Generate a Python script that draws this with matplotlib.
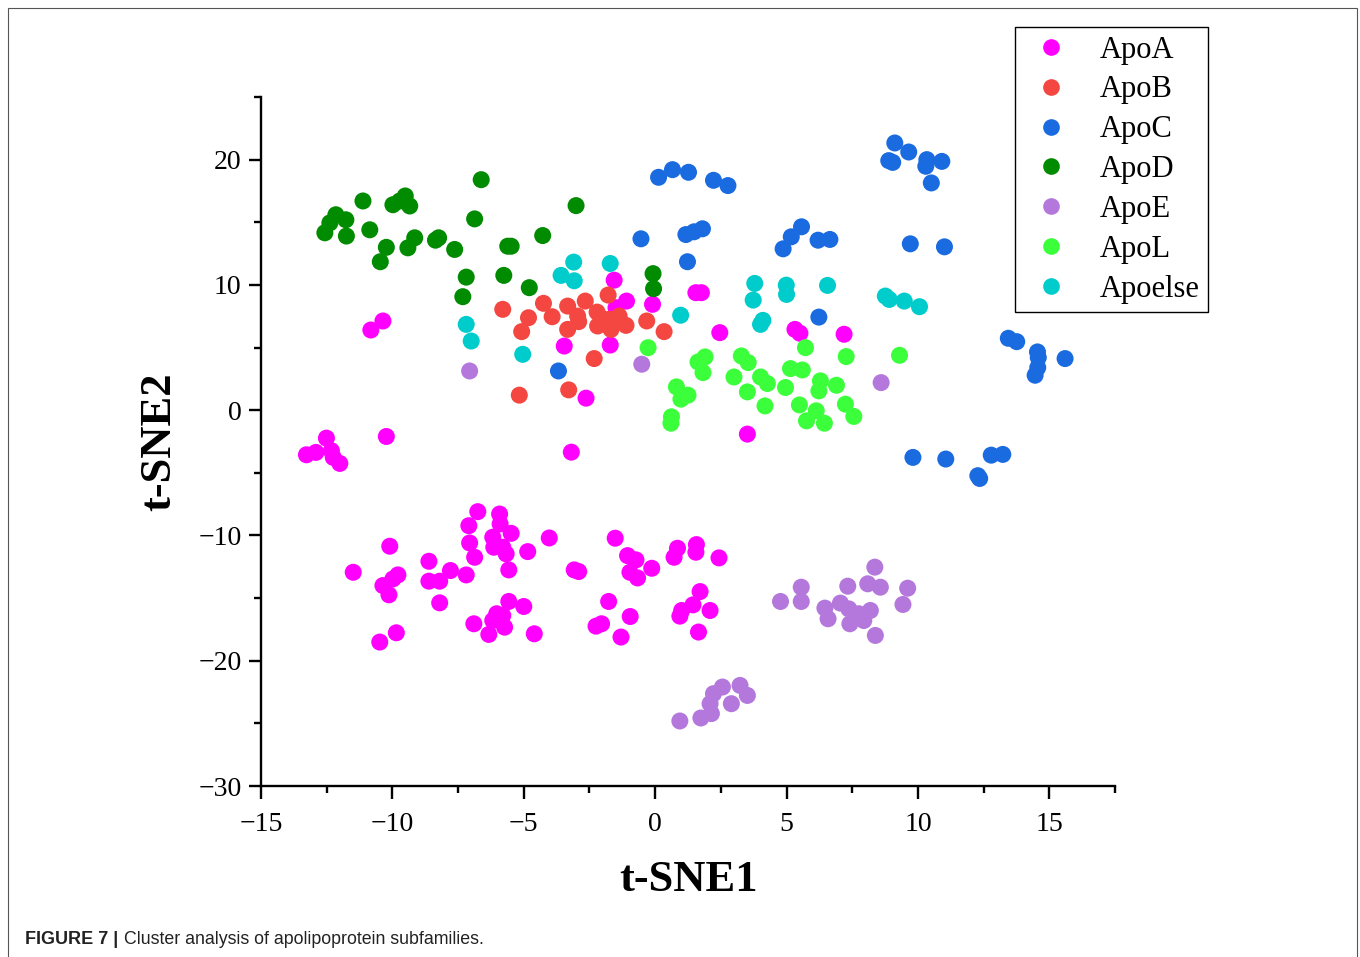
import matplotlib.pyplot as plt
import numpy as np
from matplotlib.lines import Line2D
from matplotlib.patches import Rectangle
from matplotlib.ticker import MultipleLocator

# t-SNE coordinates
apoa = np.array([
    (-10.36, 7.12), (-10.82, 6.40), (-1.56, 10.38), (-1.09, 8.71), (-1.49, 8.18),
    (-0.10, 8.45), (-3.46, 5.12), (-1.71, 5.20), (-2.63, 0.96), (1.55, 9.38),
    (1.76, 9.38), (2.46, 6.19), (5.32, 6.45), (5.51, 6.14), (7.19, 6.06),
    (3.51, -1.91), (-3.19, -3.35),
    (-12.51, -2.23), (-12.91, -3.37), (-13.27, -3.56), (-12.32, -3.24), (-12.25, -3.77),
    (-12.00, -4.25), (-10.23, -2.10),
    (-10.10, -10.86), (-11.49, -12.94), (-9.79, -13.15), (-9.98, -13.47), (-10.36, -14.00),
    (-10.13, -14.74), (-9.85, -17.77), (-10.48, -18.51), (-8.61, -12.06), (-8.61, -13.65),
    (-8.20, -13.65), (-7.79, -12.80), (-8.20, -15.38), (-7.19, -13.15), (-6.87, -11.74),
    (-7.06, -10.60), (-7.09, -9.22), (-6.75, -8.10), (-5.92, -8.29), (-5.90, -9.08),
    (-6.18, -10.14), (-6.14, -10.94), (-5.48, -9.83), (-5.80, -10.94), (-5.67, -11.47),
    (-5.57, -12.75), (-4.85, -11.29), (-4.03, -10.20), (-6.90, -17.05), (-6.33, -17.90),
    (-6.18, -16.79), (-6.03, -16.25), (-5.80, -16.39), (-5.57, -15.27), (-5.73, -17.32),
    (-5.00, -15.67), (-4.60, -17.85),
    (-1.52, -10.22), (-1.05, -11.61), (-0.73, -11.95), (-0.96, -12.94), (-0.67, -13.39),
    (-0.13, -12.62), (-3.08, -12.75), (-2.91, -12.88), (0.85, -11.02), (0.72, -11.74),
    (1.57, -10.73), (1.55, -11.34), (2.43, -11.79), (-1.77, -15.27), (-2.25, -17.24),
    (-2.04, -17.05), (-0.95, -16.47), (-1.30, -18.11), (1.71, -14.48), (1.44, -15.54),
    (1.01, -15.99), (0.94, -16.44), (2.09, -15.99), (1.65, -17.71),
])
apob = np.array([
    (-5.80, 8.05), (-4.82, 7.38), (-5.08, 6.27), (-4.25, 8.53), (-3.92, 7.46),
    (-3.33, 8.31), (-2.95, 7.51), (-2.91, 7.07), (-3.33, 6.45), (-2.66, 8.71),
    (-2.21, 7.83), (-1.79, 9.19), (-2.19, 6.72), (-1.75, 7.25), (-1.37, 7.51),
    (-1.11, 6.77), (-1.68, 6.45), (-1.87, 6.85), (-0.32, 7.12), (0.34, 6.27),
    (-2.32, 4.12), (-5.17, 1.20), (-3.29, 1.62), (-1.50, 7.00), (-2.00, 7.30),
])
apoc = np.array([
    (0.13, 18.59), (0.66, 19.20), (1.27, 18.99), (2.22, 18.35), (2.77, 17.93),
    (-0.54, 13.68), (1.17, 14.02), (1.48, 14.24), (1.80, 14.48), (1.23, 11.85),
    (4.87, 12.88), (5.18, 13.84), (5.57, 14.64), (6.20, 13.57), (6.65, 13.63),
    (6.23, 7.43), (9.71, 13.28), (11.01, 13.04), (9.12, 21.33), (9.65, 20.61),
    (8.89, 19.92), (9.04, 19.78), (10.34, 20.00), (10.30, 19.47), (10.91, 19.86),
    (10.51, 18.14), (-3.68, 3.13), (13.44, 5.74), (13.76, 5.47), (14.55, 4.65),
    (14.58, 4.20), (14.56, 3.40), (14.46, 2.79), (15.60, 4.12), (9.81, -3.77),
    (11.06, -3.90), (12.79, -3.59), (13.23, -3.53), (12.28, -5.23), (12.35, -5.45),
])
apod = np.array([
    (-12.57, 14.16), (-12.38, 14.95), (-12.15, 15.60), (-11.77, 15.20), (-11.75, 13.90),
    (-11.12, 16.70), (-10.86, 14.40), (-10.23, 13.00), (-10.46, 11.85), (-9.98, 16.40),
    (-9.51, 17.10), (-9.34, 16.30), (-9.72, 16.70), (-9.41, 12.96), (-9.15, 13.76),
    (-8.36, 13.57), (-8.24, 13.76), (-7.63, 12.83), (-6.62, 18.40), (-6.87, 15.27),
    (-7.19, 10.62), (-7.32, 9.06), (-5.61, 13.09), (-5.48, 13.09), (-5.76, 10.76),
    (-4.79, 9.78), (-4.28, 13.94), (-3.01, 16.33), (-0.08, 10.90), (-0.06, 9.70),
])
apoe = np.array([
    (-7.06, 3.13), (-0.51, 3.67), (8.60, 2.20),
    (4.77, -15.27), (5.56, -14.13), (5.56, -15.27), (6.46, -15.80), (6.58, -16.65),
    (7.05, -15.40), (7.33, -14.05), (7.37, -15.86), (7.75, -16.25), (7.41, -17.05),
    (7.94, -16.79), (8.19, -15.99), (8.09, -13.86), (8.57, -14.13), (8.36, -12.53),
    (8.38, -17.98), (9.61, -14.21), (9.43, -15.51),
    (0.94, -24.81), (1.74, -24.57), (2.14, -24.22), (2.09, -23.43), (2.22, -22.63),
    (2.56, -22.10), (2.90, -23.43), (3.23, -21.97), (3.51, -22.77),
])
apol = np.array([
    (-0.27, 4.99), (1.90, 4.25), (1.63, 3.85), (1.82, 3.00), (0.81, 1.86),
    (1.25, 1.20), (0.98, 0.88), (0.62, -0.53), (0.60, -1.04), (3.28, 4.33),
    (3.54, 3.80), (3.00, 2.65), (4.01, 2.65), (4.27, 2.13), (3.51, 1.46),
    (4.18, 0.34), (4.96, 1.81), (5.15, 3.32), (5.60, 3.21), (5.72, 4.99),
    (5.49, 0.42), (6.29, 2.34), (6.23, 1.54), (6.90, 1.99), (7.27, 4.28),
    (6.13, -0.05), (5.76, -0.85), (6.44, -1.04), (7.24, 0.48), (7.56, -0.50),
    (9.30, 4.38),
])
apoelse = np.array([
    (-3.10, 11.82), (-3.58, 10.76), (-3.08, 10.33), (-1.71, 11.71), (-7.19, 6.85),
    (-7.00, 5.52), (-5.04, 4.46), (0.97, 7.58), (3.79, 10.12), (3.73, 8.79),
    (4.10, 7.17), (4.01, 6.85), (4.99, 9.98), (5.00, 9.24), (6.56, 9.96),
    (8.76, 9.11), (8.91, 8.84), (9.48, 8.71), (10.06, 8.26),
])

groups = [apoa, apob, apoc, apod, apoe, apol, apoelse]
names = ["ApoA", "ApoB", "ApoC", "ApoD", "ApoE", "ApoL", "Apoelse"]
colors = ["#ff00ff", "#f44741", "#1a6be0", "#008b00", "#b477db", "#3cff3c", "#00cccc"]

serif = "Liberation Serif"

fig = plt.figure(figsize=(13.6, 9.57), dpi=100)
ax = fig.add_axes([261 / 1360, 1 - 786 / 957, (1115 - 261) / 1360, (786 - 97) / 957])

for pts, name, c in zip(groups, names, colors):
    ax.scatter(pts[:, 0], pts[:, 1], s=150, color=c, edgecolors="none", label=name)

ax.set_xlim(-15, 17.5)
ax.set_ylim(-30, 25)
ax.xaxis.set_major_locator(MultipleLocator(5))
ax.xaxis.set_minor_locator(MultipleLocator(2.5))
ax.yaxis.set_major_locator(MultipleLocator(10))
ax.yaxis.set_minor_locator(MultipleLocator(5))

for side in ["top", "right"]:
    ax.spines[side].set_visible(False)
for side in ["left", "bottom"]:
    ax.spines[side].set_linewidth(1.7)

ax.tick_params(which="major", direction="out", length=9, width=1.7, labelsize=20)
ax.tick_params(axis="x", which="major", pad=10)
ax.tick_params(axis="y", which="major", pad=5)
ax.tick_params(which="minor", direction="out", length=5, width=1.7)
for lab in ax.get_xticklabels() + ax.get_yticklabels():
    lab.set_fontfamily(serif)

ax.set_xlabel("t-SNE1", fontsize=32, fontweight="bold", family=serif, labelpad=16)
ax.set_ylabel("t-SNE2", fontsize=32, fontweight="bold", family=serif, labelpad=14)

handles = [Line2D([], [], marker="o", linestyle="none", markersize=12,
                  markerfacecolor=c, markeredgecolor="none") for c in colors]
leg = fig.legend(handles, names, loc="upper left",
                 bbox_to_anchor=(1015 / 1360, 1 - 27 / 957),
                 prop={"family": serif, "size": 22}, frameon=True, fancybox=False,
                 edgecolor="black", framealpha=1, handlelength=1.8, handletextpad=0.7,
                 labelspacing=0.355, borderpad=0.28, borderaxespad=0)
leg.get_frame().set_linewidth(1.0)

# figure frame and caption
fig.patches.append(Rectangle((8 / 1360, -0.01), (1357 - 8) / 1360, 1 - 8 / 957 + 0.01,
                             transform=fig.transFigure, fill=False,
                             edgecolor="#555555", linewidth=0.8))
fig.text(25 / 1360, 1 - 940 / 957, "FIGURE 7 |", fontsize=13, fontweight="bold",
         family="Liberation Sans", va="center", color="#222222")
fig.text(124 / 1360, 1 - 940 / 957, "Cluster analysis of apolipoprotein subfamilies.",
         fontsize=12.8, family="Liberation Sans", va="center", color="#222222")

plt.savefig("out.png", dpi=100)
